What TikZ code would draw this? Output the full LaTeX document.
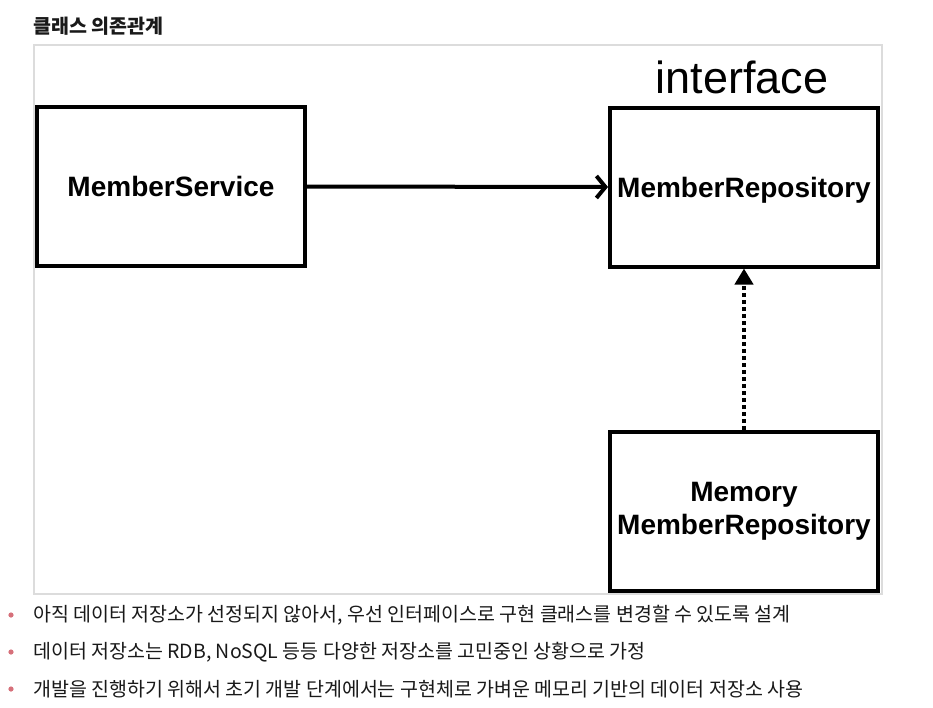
\documentclass[tikz,border=0pt]{standalone}
\usepackage{fontspec}
\setmainfont{Liberation Sans}
\newfontfamily\kr{Noto Sans CJK KR}
\usetikzlibrary{arrows.meta}
\definecolor{framegray}{RGB}{220,220,220}
\definecolor{bulletpink}{RGB}{214,112,122}
\definecolor{txt}{RGB}{25,25,25}
\begin{document}
\begin{tikzpicture}[x=1pt,y=-1pt,
  classbox/.style={draw, line width=4pt, minimum width=268pt, minimum height=159pt, inner sep=0pt, align=center,
    font=\fontsize{28}{33}\bfseries\selectfont},
  oneline/.style={text height=20pt, text depth=0pt},
  bullettext/.style={anchor=west, inner sep=0pt, text=txt, font=\kr\fontsize{19.5}{22}\selectfont},
  bulletdot/.style={fill=bulletpink, draw=none}]
\useasboundingbox (0,0) rectangle (933,707);
\node[anchor=west, inner sep=0pt, text=txt, font=\kr\bfseries\fontsize{19.5}{22}\selectfont] (title) at (33,26) {클래스 의존관계};
\draw[framegray, line width=1.2pt] (34,45) rectangle (882,594);
\node[classbox, oneline] (ms) at (171,186.5) {MemberService};
\node[classbox, oneline] (mr) at (744,187) {MemberRepository};
\node[classbox] (mm) at (744,511.5) {Memory\\MemberRepository};
\node[inner sep=0pt, font=\fontsize{45}{50}\selectfont] (iface) at (742,77) {interface};
\draw[line width=4pt, -{Straight Barb[length=9pt,width=22pt]}] (ms.east) -- (mr.west);
\draw[line width=4pt, dash pattern=on 4pt off 3pt, -{Triangle[length=16pt,width=18pt]}] (mm.north) -- (mr.south);
\fill[bulletdot] (11,615) circle (2.6pt);
\fill[bulletdot] (11,652) circle (2.6pt);
\fill[bulletdot] (11,689) circle (2.6pt);
\node[bullettext] (b1) at (33,615) {아직 데이터 저장소가 선정되지 않아서, 우선 인터페이스로 구현 클래스를 변경할 수 있도록 설계};
\node[bullettext] (b2) at (33,652) {데이터 저장소는 RDB, NoSQL 등등 다양한 저장소를 고민중인 상황으로 가정};
\node[bullettext] (b3) at (33,689) {개발을 진행하기 위해서 초기 개발 단계에서는 구현체로 가벼운 메모리 기반의 데이터 저장소 사용};
\end{tikzpicture}
\end{document}
